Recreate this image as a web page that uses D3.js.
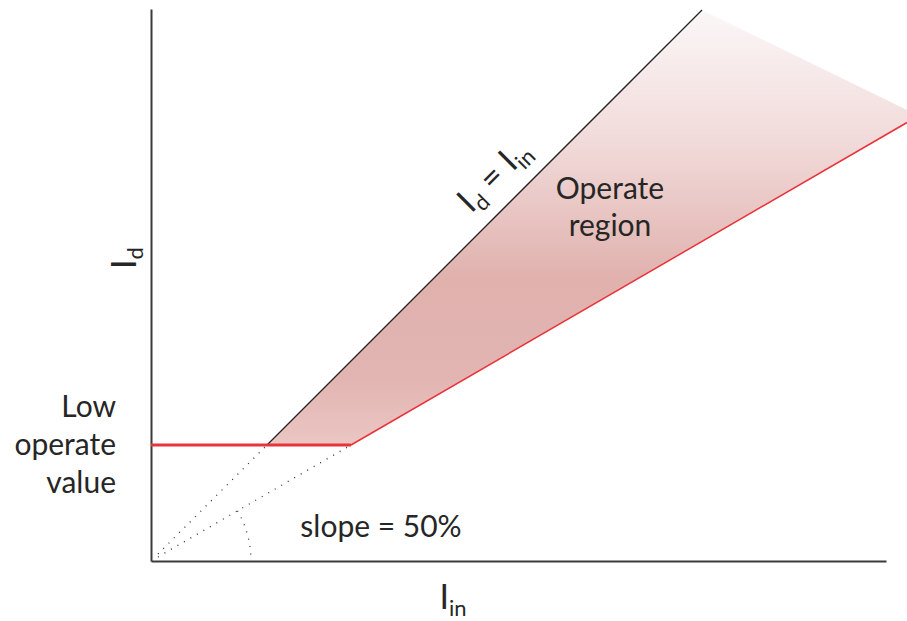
<!DOCTYPE html>
<html>
<head>
<meta charset="utf-8">
<script src="https://cdn.jsdelivr.net/npm/d3@7"></script>
<style>
  html, body { margin: 0; padding: 0; background: #fff; }
  svg { display: block; font-family: Lato, "Open Sans", sans-serif; }
</style>
</head>
<body>
<svg id="chart" width="907" height="621"></svg>
<script>
// ---- data (per-unit, Id vs Iin) ----
const lowOperate = 1.16;           // low operate value (Id)
const kneeIdIn = 1.16;             // where Id = Iin meets the low operate value
const kneeSlope = 2.0;             // where slope line leaves the low operate value
const slope = 0.58;                // slope of restraint line (drawn)
const idLineEnd = 5.51;            // end of Id = Iin line
const slopeLineEnd = 7.56;         // right edge of drawing
const regionCornerId = 4.51;       // upper right corner of operate region at edge
const xAxisMax = 7.35;
const yAxisMax = 5.52;
const arcRadius = 1.0;
const dotStart = 0.07;

const labels = {
  low: ["Low", "operate", "value"],
  region: ["Operate", "region"],
  slope: "slope = 50%"
};

// ---- scales ----
const svg = d3.select("#chart");
const x = d3.scaleLinear().domain([0, slopeLineEnd]).range([151, 907]);
const y = d3.scaleLinear().domain([0, yAxisMax]).range([561, 9]);

// gradient
const defs = svg.append("defs");
const grad = defs.append("linearGradient")
  .attr("id", "regionGrad").attr("gradientUnits", "userSpaceOnUse")
  .attr("x1", 0).attr("x2", 0).attr("y1", y(idLineEnd)).attr("y2", y(lowOperate));
[[0, "#fbf7f7"], [0.3, "#f1dbda"], [0.62, "#e0b1ad"], [0.85, "#e2b5b2"], [1, "#ebc6c3"]]
  .forEach(([o, c]) => grad.append("stop").attr("offset", o).attr("stop-color", c));

// operate region
const region = [
  [kneeIdIn, lowOperate],
  [idLineEnd, idLineEnd],
  [slopeLineEnd, regionCornerId],
  [slopeLineEnd, slope * slopeLineEnd],
  [kneeSlope, lowOperate]
];
svg.append("path")
  .attr("d", d3.line().x(d => x(d[0])).y(d => y(d[1]))(region) + "Z")
  .attr("fill", "url(#regionGrad)");

// axes
const xa = d3.scaleLinear().domain([0, xAxisMax]).range([x(0), x(xAxisMax)]);
const ya = d3.scaleLinear().domain([0, yAxisMax]).range([y(0), y(yAxisMax)]);
svg.append("g").attr("transform", `translate(0,${y(0)})`)
  .call(d3.axisBottom(xa).tickValues([]).tickSizeOuter(0));
svg.append("g").attr("transform", `translate(${x(0)},0)`)
  .call(d3.axisLeft(ya).tickValues([]).tickSizeOuter(0));
svg.selectAll(".domain").attr("stroke", "#3a3a3a").attr("stroke-width", 2);

// dotted construction lines
const line = d3.line().x(d => x(d[0])).y(d => y(d[1]));
const dotted = (pts) => svg.append("path").attr("d", line(pts))
  .attr("fill", "none").attr("stroke", "#333").attr("stroke-width", 1.3)
  .attr("stroke-dasharray", "1,6.5");
dotted([[dotStart, dotStart], [kneeIdIn, lowOperate]]);
dotted([[dotStart, dotStart * slope], [kneeSlope, lowOperate]]);
// arc
const p = d3.path();
const r = x(arcRadius) - x(0);
p.arc(x(0), y(0), r, -Math.atan(slope), 0);
svg.append("path").attr("d", p.toString())
  .attr("fill", "none").attr("stroke", "#333").attr("stroke-width", 1.3)
  .attr("stroke-dasharray", "1,6.5");

// Id = Iin line
svg.append("path").attr("d", line([[kneeIdIn, kneeIdIn], [idLineEnd, idLineEnd]]))
  .attr("stroke", "#222").attr("stroke-width", 1.3).attr("fill", "none");
// slope line
svg.append("path").attr("d", line([[kneeSlope, lowOperate], [slopeLineEnd, slope * slopeLineEnd]]))
  .attr("stroke", "#e8333a").attr("stroke-width", 1.5).attr("fill", "none");
// low operate value line
svg.append("path").attr("d", line([[0, lowOperate], [kneeSlope, lowOperate]]))
  .attr("stroke", "#e8333a").attr("stroke-width", 3).attr("fill", "none");

const textColor = "#262626";

// Low operate value label
const lowT = svg.append("text").attr("text-anchor", "end").attr("fill", textColor)
  .attr("font-size", 30);
labels.low.forEach((s, i) => lowT.append("tspan").attr("x", 116).attr("y", 417 + i * 38).text(s));

// Operate region label
const regT = svg.append("text").attr("text-anchor", "middle").attr("fill", textColor)
  .attr("font-size", 30);
labels.region.forEach((s, i) => regT.append("tspan").attr("x", 610).attr("y", 199 + i * 37).text(s));

// slope label
svg.append("text").attr("x", 381).attr("y", 537).attr("text-anchor", "middle")
  .attr("fill", textColor).attr("font-size", 30).text(labels.slope);

// subscript helper
function subLabel(g, parts) {
  const t = g.append("text").attr("fill", textColor).attr("font-size", 34);
  let shift = 0;
  parts.forEach(([s, sub]) => {
    const target = sub ? 7 : 0;
    t.append("tspan").attr("font-size", sub ? 22 : 34).attr("dy", target - shift).text(s);
    shift = target;
  });
  return t;
}

// Id = Iin label along the line
const tPos = 3.64, off = 19;
const lx = x(tPos) - off * Math.SQRT1_2, ly = y(tPos) - off * Math.SQRT1_2;
const gDiag = svg.append("g").attr("transform", `translate(${lx},${ly}) rotate(-45)`);
subLabel(gDiag, [["I", false], ["d", true], [" = I", false], ["in", true]]).attr("text-anchor", "middle");

// axis labels
const gY = svg.append("g").attr("transform", `translate(136,258) rotate(-90)`);
subLabel(gY, [["I", false], ["d", true]]).attr("text-anchor", "middle");
const gX = svg.append("g").attr("transform", `translate(453,609)`);
subLabel(gX, [["I", false], ["in", true]]).attr("text-anchor", "middle");
</script>
</body>
</html>
